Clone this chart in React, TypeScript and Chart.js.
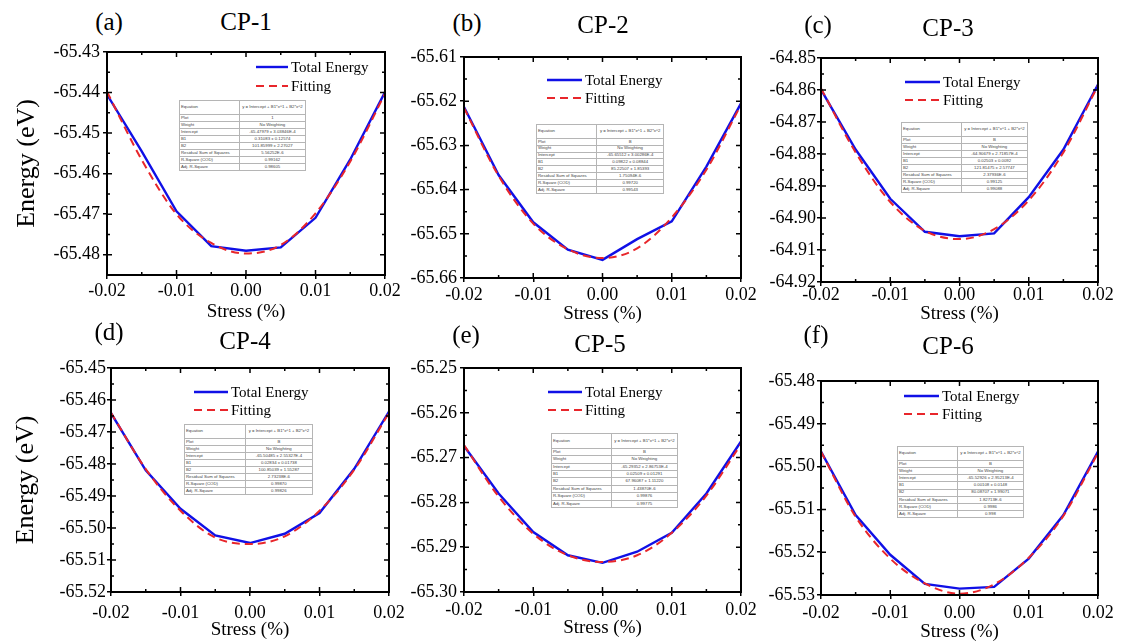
import React, { useEffect, useRef } from 'react';
import { Chart, registerables } from 'chart.js';

Chart.register(...registerables);

// ---------------- data ----------------
const stress = [-0.02, -0.015, -0.01, -0.005, 0, 0.005, 0.01, 0.015, 0.02];
const stressTicks = [-0.02, -0.01, 0, 0.01, 0.02];

const panelLetters = ['(a)', '(b)', '(c)', '(d)', '(e)', '(f)'];
const panelNames = ['CP-1', 'CP-2', 'CP-3', 'CP-4', 'CP-5', 'CP-6'];

const totalEnergyCP1 = [-65.4405, -65.4545, -65.4693, -65.4779, -65.479, -65.4782, -65.4709, -65.4565, -65.4399];
const fittingCP1 = [-65.4398, -65.4566, -65.4700, -65.4771, -65.4797, -65.4776, -65.4698, -65.4570, -65.4403];
const totalEnergyCP2 = [-65.6213, -65.6367, -65.6474, -65.6536, -65.6559, -65.6512, -65.6472, -65.6348, -65.6205];
const fittingCP2 = [-65.6215, -65.6369, -65.6477, -65.6535, -65.6555, -65.6533, -65.6463, -65.6355, -65.6208];
const totalEnergyCP3 = [-64.8599, -64.8786, -64.894, -64.9043, -64.9057, -64.9048, -64.8935, -64.8786, -64.8583];
const fittingCP3 = [-64.8595, -64.8795, -64.895, -64.904, -64.9066, -64.9035, -64.8945, -64.8795, -64.8586];
const totalEnergyCP4 = [-65.4641, -65.482, -65.494, -65.5023, -65.5047, -65.5018, -65.4953, -65.4815, -65.4636];
const fittingCP4 = [-65.464, -65.4816, -65.4946, -65.503, -65.505, -65.5026, -65.4946, -65.4818, -65.464];
const totalEnergyCP5 = [-65.2674, -65.278, -65.2866, -65.2918, -65.2935, -65.291, -65.2868, -65.278, -65.2664];
const fittingCP5 = [-65.2672, -65.2787, -65.287, -65.2918, -65.2933, -65.2918, -65.2868, -65.2785, -65.267];
const totalEnergyCP6 = [-65.4965, -65.5113, -65.5206, -65.5274, -65.5285, -65.5281, -65.5215, -65.5113, -65.4965];
const fittingCP6 = [-65.4965, -65.5117, -65.5215, -65.5273, -65.5297, -65.5275, -65.5213, -65.5115, -65.4968];

const energyTicksCP1 = [-65.48, -65.47, -65.46, -65.45, -65.44, -65.43];
const energyTicksCP2 = [-65.66, -65.65, -65.64, -65.63, -65.62, -65.61];
const energyTicksCP3 = [-64.92, -64.91, -64.9, -64.89, -64.88, -64.87, -64.86, -64.85];
const energyTicksCP4 = [-65.52, -65.51, -65.5, -65.49, -65.48, -65.47, -65.46, -65.45];
const energyTicksCP5 = [-65.3, -65.29, -65.28, -65.27, -65.26, -65.25];
const energyTicksCP6 = [-65.53, -65.52, -65.51, -65.5, -65.49, -65.48];

const energyRangeCP1 = [-65.485, -65.43];
const energyRangeCP2 = [-65.66, -65.61];
const energyRangeCP3 = [-64.92, -64.85];
const energyRangeCP4 = [-65.52, -65.45];
const energyRangeCP5 = [-65.3, -65.25];
const energyRangeCP6 = [-65.53, -65.48];

const seriesLabels = ['Total Energy', 'Fitting'];

const tableRowLabels = ['Equation', 'Plot', 'Weight', 'Intercept', 'B1', 'B2', 'Residual Sum of Squares', 'R-Square (COD)', 'Adj. R-Square'];
const fitEquation = 'y = Intercept + B1*x^1 + B2*x^2';
const fitPlot = ['1', 'B', 'B', 'B', 'B', 'B'];
const fitWeight = 'No Weighting';
const fitIntercept = ['-65.47979 ± 3.03846E-4', '-65.65512 ± 3.00286E-4', '-64.90679 ± 2.71857E-4', '-65.50485 ± 2.55327E-4', '-65.29352 ± 2.86753E-4', '-65.52926 ± 2.95213E-4'];
const fitB1 = ['0.31083 ± 0.12574', '0.09822 ± 0.08844', '0.02503 ± 0.0092', '0.02834 ± 0.01738', '0.02509 ± 0.01291', '0.00108 ± 0.0148'];
const fitB2 = ['101.85999 ± 2.27027', '85.22507 ± 1.85393', '121.81475 ± 2.57747', '100.85039 ± 1.55287', '67.96087 ± 1.11220', '80.08707 ± 1.99071'];
const fitRSS = ['5.56252E-6', '1.75094E-6', '2.37936E-6', '2.73238E-6', '1.43870E-6', '1.82713E-6'];
const fitR2 = ['0.99162', '0.99720', '0.99125', '0.99870', '0.99876', '0.9986'];
const fitAdjR2 = ['0.98605', '0.99543', '0.99088', '0.99826', '0.99775', '0.998'];

const energySeries = [totalEnergyCP1, totalEnergyCP2, totalEnergyCP3, totalEnergyCP4, totalEnergyCP5, totalEnergyCP6];
const fittingSeries = [fittingCP1, fittingCP2, fittingCP3, fittingCP4, fittingCP5, fittingCP6];
const energyTicks = [energyTicksCP1, energyTicksCP2, energyTicksCP3, energyTicksCP4, energyTicksCP5, energyTicksCP6];
const energyRanges = [energyRangeCP1, energyRangeCP2, energyRangeCP3, energyRangeCP4, energyRangeCP5, energyRangeCP6];

// ---------------- layout (page pixels) ----------------
const panelLayout = [
  { l: 107, t: 52, r: 385, b: 275, xPad: 3, xH: 47, yPad: 3, yTitle: true, yTitlePad: 12, leg: [256, 288, 67, 86], title: [109, 21, 246, 21], table: [179, 100, 126, 70] },
  { l: 464, t: 57, r: 741, b: 278, xPad: 4, xH: 46, yPad: 3, yTitle: false, yTitlePad: 0, leg: [547, 582, 80, 98], title: [467, 22, 603, 24], table: [536, 124, 127, 69] },
  { l: 821, t: 58, r: 1098, b: 282, xPad: 0, xH: 42, yPad: 1, yTitle: false, yTitlePad: 0, leg: [905, 940, 82, 100], title: [818, 24, 948, 27], table: [901, 122, 126, 70] },
  { l: 111, t: 368, r: 389, b: 592, xPad: 8, xH: 48, yPad: 1, yTitle: true, yTitlePad: 7, leg: [194, 228, 392, 410], title: [109, 331, 245, 340], table: [184, 424, 128, 70] },
  { l: 464, t: 368, r: 741, b: 592, xPad: 5, xH: 46, yPad: 3, yTitle: false, yTitlePad: 0, leg: [548, 582, 392, 410], title: [466, 334, 600, 343], table: [551, 433, 126, 74] },
  { l: 821, t: 381, r: 1098, b: 595, xPad: 5, xH: 47, yPad: 2, yTitle: false, yTitlePad: 0, leg: [904, 939, 396, 414], title: [816, 334, 948, 345], table: [897, 446, 126, 71] },
];

const SERIF = '"Liberation Serif", "Times New Roman", serif';
const SANS = '"Liberation Sans", Arial, sans-serif';
const BLUE = '#1010e6';
const RED = '#e8262b';
const PAD_TOP = 14;
const PAD_RIGHT = 26;
const Y_W = 105;

Chart.defaults.font.family = SERIF;

const framePlugin = {
  id: 'originFrame',
  afterDraw(chart: any, _args: any, opts: any) {
    const { ctx, chartArea } = chart;
    const { left, right, top, bottom } = chartArea;
    const xs = chart.scales.x;
    const ys = chart.scales.y;
    const mids = (arr: number[]) => arr.slice(1).map((v, k) => (v + arr[k]) / 2);
    ctx.save();
    ctx.strokeStyle = '#000';
    ctx.lineWidth = 1.5;
    ctx.setLineDash([]);
    ctx.beginPath();
    const xMaj: number[] = opts.xTicks || [];
    const yMaj: number[] = opts.yTicks || [];
    xMaj.forEach((v) => {
      const p = xs.getPixelForValue(v);
      ctx.moveTo(p, bottom); ctx.lineTo(p, bottom - 5);
      ctx.moveTo(p, top); ctx.lineTo(p, top + 5);
    });
    mids(xMaj).forEach((v) => {
      const p = xs.getPixelForValue(v);
      ctx.moveTo(p, bottom); ctx.lineTo(p, bottom - 3);
      ctx.moveTo(p, top); ctx.lineTo(p, top + 3);
    });
    yMaj.forEach((v) => {
      const p = ys.getPixelForValue(v);
      ctx.moveTo(left, p); ctx.lineTo(left + 5, p);
      ctx.moveTo(right, p); ctx.lineTo(right - 5, p);
    });
    mids(yMaj).forEach((v) => {
      const p = ys.getPixelForValue(v);
      ctx.moveTo(left, p); ctx.lineTo(left + 3, p);
      ctx.moveTo(right, p); ctx.lineTo(right - 3, p);
    });
    ctx.stroke();
    ctx.lineWidth = 2;
    ctx.strokeRect(left, top, right - left, bottom - top);

    // legend inside the plot
    const lg = opts.legend;
    if (lg) {
      chart.data.datasets.forEach((ds: any, k: number) => {
        const y = k === 0 ? lg.y1 : lg.y2;
        ctx.strokeStyle = ds.borderColor;
        ctx.lineWidth = ds.borderWidth;
        ctx.setLineDash(ds.borderDash || []);
        ctx.beginPath();
        ctx.moveTo(lg.x1, y);
        ctx.lineTo(lg.x2, y);
        ctx.stroke();
        ctx.setLineDash([]);
        ctx.fillStyle = '#000';
        ctx.font = `15px ${SERIF}`;
        ctx.textBaseline = 'middle';
        ctx.textAlign = 'left';
        ctx.fillText(ds.label, lg.x2 + 3, y + 1);
      });
    }
    ctx.restore();
  },
};

function FitTable({ i }: { i: number }) {
  const [tx, ty, tw, th] = panelLayout[i].table;
  const unit = th / 10;
  const values = [fitEquation, fitPlot[i], fitWeight, fitIntercept[i], fitB1[i], fitB2[i], fitRSS[i], fitR2[i], fitAdjR2[i]];
  const cell: React.CSSProperties = {
    border: '0.6px solid #b5b5b5',
    padding: '0 1px',
    lineHeight: 1,
    overflow: 'hidden',
    color: '#444',
  };
  return (
    <table
      style={{
        position: 'absolute', left: tx, top: ty, width: tw, height: th,
        borderCollapse: 'collapse', tableLayout: 'fixed', background: '#fff',
        fontFamily: SANS, fontSize: 4.3, border: '0.8px solid #999',
      }}
    >
      <colgroup>
        <col style={{ width: tw * 0.475 }} />
        <col style={{ width: tw * 0.525 }} />
      </colgroup>
      <tbody>
        {tableRowLabels.map((lab, k) => (
          <tr key={lab} style={{ height: k === 0 ? unit * 2 : unit }}>
            <td style={{ ...cell, textAlign: 'left', whiteSpace: 'nowrap' }}>{lab}</td>
            <td style={{ ...cell, textAlign: 'center', whiteSpace: k === 0 ? 'normal' : 'nowrap' }}>{values[k]}</td>
          </tr>
        ))}
      </tbody>
    </table>
  );
}

function Panel({ i }: { i: number }) {
  const ref = useRef<HTMLCanvasElement>(null);
  const L = panelLayout[i];
  const cl = L.l - Y_W;
  const ct = L.t - PAD_TOP;
  const cw = Y_W + (L.r - L.l) + PAD_RIGHT;
  const ch = PAD_TOP + (L.b - L.t) + L.xH;

  useEffect(() => {
    const canvas = ref.current;
    if (!canvas) return;
    const tickFont = { family: SERIF, size: 18, lineHeight: 1 };
    const chart = new Chart(canvas, {
      type: 'line',
      data: {
        labels: stress,
        datasets: [
          {
            label: seriesLabels[0],
            data: stress.map((x, k) => ({ x, y: energySeries[i][k] })),
            borderColor: BLUE,
            backgroundColor: BLUE,
            borderWidth: 2.4,
            pointRadius: 0,
            tension: 0,
            fill: false,
            order: 2,
          },
          {
            label: seriesLabels[1],
            data: stress.map((x, k) => ({ x, y: fittingSeries[i][k] })),
            borderColor: RED,
            backgroundColor: RED,
            borderWidth: 2,
            borderDash: [8, 5],
            pointRadius: 0,
            cubicInterpolationMode: 'monotone',
            fill: false,
            order: 1,
          },
        ] as any,
      },
      options: {
        responsive: false,
        animation: false,
        devicePixelRatio: 1,
        layout: { padding: { top: PAD_TOP, right: PAD_RIGHT, bottom: 0, left: 0 } },
        events: [],
        plugins: {
          legend: { display: false },
          tooltip: { enabled: false },
          originFrame: {
            xTicks: stressTicks,
            yTicks: energyTicks[i],
            legend: {
              x1: L.leg[0] - cl, x2: L.leg[1] - cl,
              y1: L.leg[2] - ct, y2: L.leg[3] - ct,
            },
          },
        } as any,
        scales: {
          x: {
            type: 'linear',
            min: -0.02,
            max: 0.02,
            afterBuildTicks: (s: any) => { s.ticks = stressTicks.map((v) => ({ value: v })); },
            afterFit: (s: any) => { s.height = L.xH; },
            ticks: {
              font: tickFont, color: '#000', padding: L.xPad, autoSkip: false, maxRotation: 0,
              callback: (v: any) => Number(v).toFixed(2),
            },
            grid: { drawOnChartArea: false, drawTicks: true, tickLength: 4, color: '#000', lineWidth: 1.5 },
            border: { display: false },
            title: {
              display: true, text: 'Stress (%)', color: '#000',
              font: { family: SERIF, size: 19, lineHeight: 1 }, padding: { top: 0, bottom: 0 },
            },
          },
          y: {
            type: 'linear',
            min: energyRanges[i][0],
            max: energyRanges[i][1],
            afterBuildTicks: (s: any) => { s.ticks = energyTicks[i].map((v) => ({ value: v })); },
            afterFit: (s: any) => { s.width = Y_W; },
            ticks: {
              font: tickFont, color: '#000', padding: L.yPad, autoSkip: false,
              callback: (v: any) => Number(v).toFixed(2),
            },
            grid: { drawOnChartArea: false, drawTicks: true, tickLength: 4, color: '#000', lineWidth: 1.5 },
            border: { display: false },
            title: {
              display: L.yTitle, text: 'Energy (eV)', color: '#000',
              font: { family: SERIF, size: 26, lineHeight: 1 }, padding: { top: L.yTitlePad, bottom: 0 },
            },
          },
        },
      } as any,
      plugins: [framePlugin],
    });
    return () => chart.destroy();
  }, [i]);

  const [lx, ly, nx, ny] = L.title;
  const titleStyle = (cx: number, cy: number): React.CSSProperties => ({
    position: 'absolute', left: cx - 60, top: cy - 12.5, width: 120, textAlign: 'center',
    fontFamily: SERIF, fontSize: 25, lineHeight: '25px', color: '#000', whiteSpace: 'nowrap',
  });

  return (
    <>
      <canvas
        ref={ref}
        width={cw}
        height={ch}
        style={{ position: 'absolute', left: cl, top: ct, width: cw, height: ch }}
      />
      <div style={titleStyle(lx, ly)}>{panelLetters[i]}</div>
      <div style={titleStyle(nx, ny)}>{panelNames[i]}</div>
      <FitTable i={i} />
    </>
  );
}

export default function App() {
  return (
    <div
      style={{
        position: 'absolute', left: 0, top: 0, width: 1121, height: 644,
        background: '#fff', overflow: 'hidden',
      }}
    >
      {panelNames.map((_, i) => (
        <Panel key={i} i={i} />
      ))}
    </div>
  );
}
